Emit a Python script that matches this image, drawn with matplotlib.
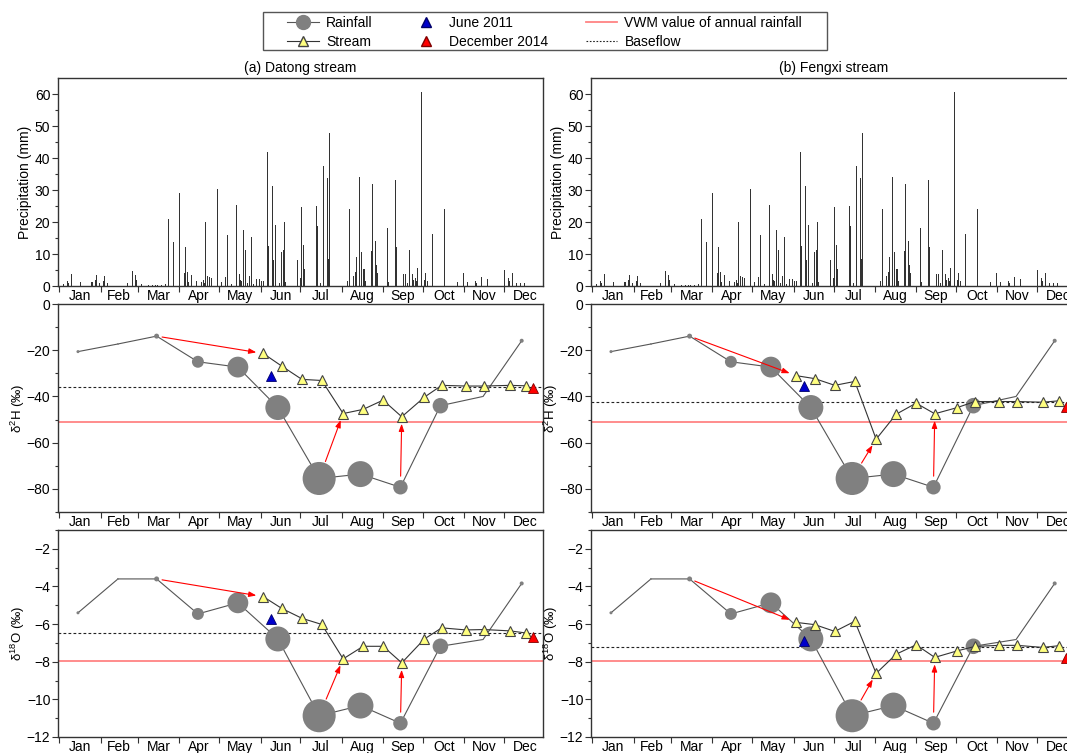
import matplotlib
matplotlib.use('Agg')
import matplotlib.pyplot as plt
from matplotlib.lines import Line2D
from matplotlib.patches import Rectangle
import numpy as np

plt.rcParams['font.family'] = ['Liberation Sans', 'DejaVu Sans']
plt.rcParams['mathtext.fontset'] = 'custom'
plt.rcParams['mathtext.rm'] = 'Liberation Sans'
plt.rcParams['mathtext.it'] = 'Liberation Sans:italic'
plt.rcParams['mathtext.bf'] = 'Liberation Sans:bold'

# ---------------- data ----------------
months = ['Jan', 'Feb', 'Mar', 'Apr', 'May', 'Jun', 'Jul', 'Aug', 'Sep', 'Oct', 'Nov', 'Dec']
month_start = [0, 31, 59, 90, 120, 151, 181, 212, 243, 273, 304, 334, 365]

# daily precipitation (day of year, mm)
precip_day = [3, 5, 6, 7, 9, 16, 24, 25, 26, 27, 28, 29, 30, 33, 34, 36, 51, 55, 57, 58, 62,
              67, 70, 72, 74, 77, 80, 82, 86, 90, 94, 95, 96, 97, 99, 103, 107, 108, 109, 110,
              111, 113, 114, 119, 122, 125, 126, 129, 133, 135, 136, 137, 138, 140, 141, 143,
              144, 146, 148, 150, 152, 153, 156, 157, 160, 161, 162, 165, 167, 168, 169, 170,
              179, 181, 182, 183, 184, 193, 194, 196, 198, 201, 202, 203, 216, 218, 221, 222,
              223, 225, 227, 228, 229, 230, 234, 235, 237, 238, 239, 246, 247, 252, 253, 258,
              260, 261, 263, 265, 266, 267, 268, 269, 272, 274, 275, 276, 280, 289, 299, 303,
              306, 312, 313, 317, 321, 327, 330, 334, 336, 337, 338, 339, 340, 343, 346, 349, 354]
precip_mm = [0.5, 0.5, 1.5, 1.0, 3.7, 1.3, 1.2, 1.3, 1.6, 2.0, 3.5, 3.8, 1.0, 1.5, 3.0, 1.0, 0.8,
             4.8, 3.5, 2.0, 0.5, 0.3, 0.3, 0.3, 0.4, 0.3, 0.6, 21.0, 13.9, 29.1, 4.0, 12.2, 4.5,
             1.2, 3.5, 1.5, 1.3, 2.0, 1.0, 19.9, 3.0, 2.8, 2.5, 30.4, 1.2, 2.7, 16.0, 0.5, 25.4,
             3.8, 2.0, 1.5, 17.6, 11.2, 1.0, 3.0, 15.3, 0.5, 2.2, 2.2, 1.5, 1.5, 41.8, 12.5, 31.3,
             8.0, 19.2, 0.8, 10.7, 11.4, 20.1, 1.2, 8.0, 2.6, 24.7, 12.8, 5.3, 25.0, 18.6, 0.8,
             37.5, 33.6, 8.5, 47.7, 1.5, 24.1, 3.0, 4.5, 9.0, 34.0, 10.6, 5.3, 5.3, 1.5, 11.0,
             32.0, 14.2, 6.5, 4.2, 18.2, 1.2, 33.0, 12.2, 3.7, 3.8, 1.0, 11.1, 3.8, 2.0, 2.5, 1.5,
             5.5, 60.6, 2.0, 4.2, 1.5, 16.3, 24.0, 1.3, 4.2, 1.2, 1.5, 1.0, 2.8, 2.3, 1.7, 0.5,
             5.0, 3.7, 2.5, 1.5, 7.0, 4.2, 1.0, 1.0, 1.0, 1.8]

# monthly rainfall isotopes (marker size follows monthly rainfall amount)
rain_day = [14, 44, 73, 104, 134, 164, 195, 226, 256, 286, 318, 347]
rain_monthly_mm = [22, 14, 36, 86, 150, 180, 238, 187, 104, 112, 7, 29]
rain_d2h = [-20.6, -17.3, -13.9, -25.0, -27.3, -44.8, -75.5, -73.6, -79.3, -44.0, -40.0, -15.9]
rain_d18o = [-5.40, -3.60, -3.60, -5.46, -4.87, -6.79, -10.87, -10.33, -11.27, -7.18, -6.82, -3.84]

# stream samples
stream_day = [153, 167, 182, 197, 213, 228, 243, 257, 274, 287, 305, 319, 338, 350]
datong_d2h = [-21.4, -26.9, -32.6, -33.1, -47.4, -45.6, -41.6, -48.8, -40.3, -35.2, -35.5,
              -35.5, -35.2, -35.4]
datong_d18o = [-4.54, -5.17, -5.69, -6.02, -7.85, -7.18, -7.18, -8.06, -6.79, -6.20, -6.31,
               -6.29, -6.36, -6.47]
fengxi_d2h = [-31.0, -32.3, -35.2, -33.5, -58.5, -47.7, -42.9, -47.5, -44.8, -42.2, -42.2,
              -42.2, -42.5, -41.9]
fengxi_d18o = [-5.91, -6.03, -6.39, -5.85, -8.62, -7.60, -7.10, -7.77, -7.42, -7.19, -7.13,
               -7.13, -7.24, -7.15]

june2011_day = 159
dec2014_day = 355.5
datong_june2011 = {'d2h': -31.0, 'd18o': -5.72}
datong_dec2014 = {'d2h': -36.4, 'd18o': -6.70}
fengxi_june2011 = {'d2h': -35.4, 'd18o': -6.90}
fengxi_dec2014 = {'d2h': -44.5, 'd18o': -7.80}
datong_baseflow = {'d2h': -35.8, 'd18o': -6.47}
fengxi_baseflow = {'d2h': -42.5, 'd18o': -7.24}
vwm_annual = {'d2h': -51.2, 'd18o': -7.96}

# ---------------- styling ----------------
RAIN_C = '#808080'
YEL = '#FFFF80'
SPINE_C = '#333333'
VWM_C = '#FF8484'
FS = 10

fig = plt.figure(figsize=(10.67, 7.53), dpi=100)
W = 485 / 1067
lefts = [58 / 1067, 591 / 1067]
rows = [(1 - 286 / 753, 208 / 753), (1 - 512 / 753, 208 / 753), (1 - 737 / 753, 207 / 753)]


def style_axis(ax):
    ax.set_xlim(-1, 363)
    ax.set_xticks(month_start[:12])
    ax.set_xticks([(month_start[i] + month_start[i + 1]) / 2 for i in range(12)], minor=True)
    ax.set_xticklabels([], minor=False)
    ax.set_xticklabels(months, minor=True, fontsize=FS)
    ax.tick_params(axis='x', which='major', direction='out', length=4, width=0.8, color=SPINE_C)
    ax.tick_params(axis='x', which='minor', length=0, pad=2)
    ax.tick_params(axis='y', which='major', direction='out', length=4, width=0.8,
                   color=SPINE_C, labelsize=FS, pad=1.5)
    ax.tick_params(axis='y', which='minor', direction='out', length=2, width=0.8, color=SPINE_C)
    for s in ax.spines.values():
        s.set_linewidth(1.0)
        s.set_color(SPINE_C)


stream_sets = [
    (datong_d2h, datong_d18o, datong_june2011, datong_dec2014, datong_baseflow),
    (fengxi_d2h, fengxi_d18o, fengxi_june2011, fengxi_dec2014, fengxi_baseflow),
]
titles = ['(a) Datong stream', '(b) Fengxi stream']

msizes = np.array(rain_monthly_mm) * 0.1

for col in range(2):
    left = lefts[col]
    # precipitation
    ax = fig.add_axes([left, rows[0][0], W, rows[0][1]])
    ax.bar(precip_day, precip_mm, width=0.7, color='#333333', linewidth=0, align='center')
    ax.set_ylim(0, 65)
    ax.set_yticks(np.arange(0, 61, 10))
    ax.set_yticks(np.arange(0, 65, 5), minor=True)
    style_axis(ax)
    ax.set_ylabel('Precipitation (mm)', fontsize=FS, labelpad=2)
    ax.set_title(titles[col], fontsize=FS, pad=4)

    s2h, s18o, jun, dec, base = stream_sets[col]
    for r, (key, svals, rvals, ylim, yt, ytm, ylab) in enumerate([
        ('d2h', s2h, rain_d2h, (-90, 0), np.arange(-80, 1, 20), np.arange(-90, 1, 10),
         r'δ$^{2}$H (‰)'),
        ('d18o', s18o, rain_d18o, (-12, -1), np.arange(-12, -1, 2), np.arange(-12, -0.9, 1),
         r'δ$^{18}$O (‰)'),
    ]):
        ax = fig.add_axes([left, rows[r + 1][0], W, rows[r + 1][1]])
        ax.set_ylim(*ylim)
        ax.set_yticks(yt)
        ax.set_yticks(ytm, minor=True)
        style_axis(ax)
        ax.set_ylabel(ylab, fontsize=9.5, labelpad=0)
        ax.axhline(vwm_annual[key], color=VWM_C, lw=1.3, zorder=1)
        ax.axhline(base[key], color='#222222', lw=0.8, ls=(0, (2.5, 2)), zorder=1)
        ax.plot(rain_day, rvals, color='#555555', lw=0.8, zorder=2)
        ax.scatter(rain_day, rvals, s=msizes ** 2, c=RAIN_C, edgecolors='none', zorder=3)
        ax.plot(stream_day, svals, color='#333333', lw=0.8, marker='^', ms=7.5,
                mfc=YEL, mec='#444444', mew=0.8, zorder=5)
        ax.plot([june2011_day], [jun[key]], ls='none', marker='^', ms=7.5, mfc='#0000CC',
                mec='#00006A', mew=0.6, zorder=6)
        ax.plot([dec2014_day], [dec[key]], ls='none', marker='^', ms=7.5, mfc='#FF0000',
                mec='#800000', mew=0.6, zorder=6)
        # arrows: rain -> stream
        arrows = [(2, 0, 4), (6, 4, 13), (8, 7, 8)]
        for ri, si, shA in arrows:
            ax.annotate('', xy=(stream_day[si], svals[si]), xytext=(rain_day[ri], rvals[ri]),
                        arrowprops=dict(arrowstyle='-|>,head_length=0.55,head_width=0.2',
                                        color='red', lw=0.8, shrinkA=shA, shrinkB=5,
                                        mutation_scale=8), zorder=4)

# legend
handles = [
    Line2D([], [], color='#555555', lw=0.8, marker='o', ms=10, mfc=RAIN_C, mec=RAIN_C),
    Line2D([], [], color='#333333', lw=0.8, marker='^', ms=7.5, mfc=YEL, mec='#444444'),
    Line2D([], [], ls='none', marker='^', ms=7.5, mfc='#0000CC', mec='#00006A'),
    Line2D([], [], ls='none', marker='^', ms=7.5, mfc='#FF0000', mec='#800000'),
    Line2D([], [], color=VWM_C, lw=1.3),
    Line2D([], [], color='#222222', lw=0.8, ls=(0, (1.5, 1.5))),
]
labels = ['Rainfall', 'Stream', 'June 2011', 'December 2014',
          'VWM value of annual rainfall', 'Baseflow']
leg = fig.legend(handles, labels, ncol=3, loc='upper left',
                 bbox_to_anchor=(287 / 1067, 1 - 16 / 753),
                 fontsize=FS, frameon=False, borderaxespad=0, borderpad=0,
                 handlelength=2.3, handletextpad=0.5, columnspacing=2.7,
                 labelspacing=0.37)
fig.patches.append(Rectangle((263 / 1067, 1 - 50 / 753), 564 / 1067, 38 / 753,
                             transform=fig.transFigure, fill=False, ec='#555555', lw=1.0))

fig.savefig('out.png', dpi=100)
